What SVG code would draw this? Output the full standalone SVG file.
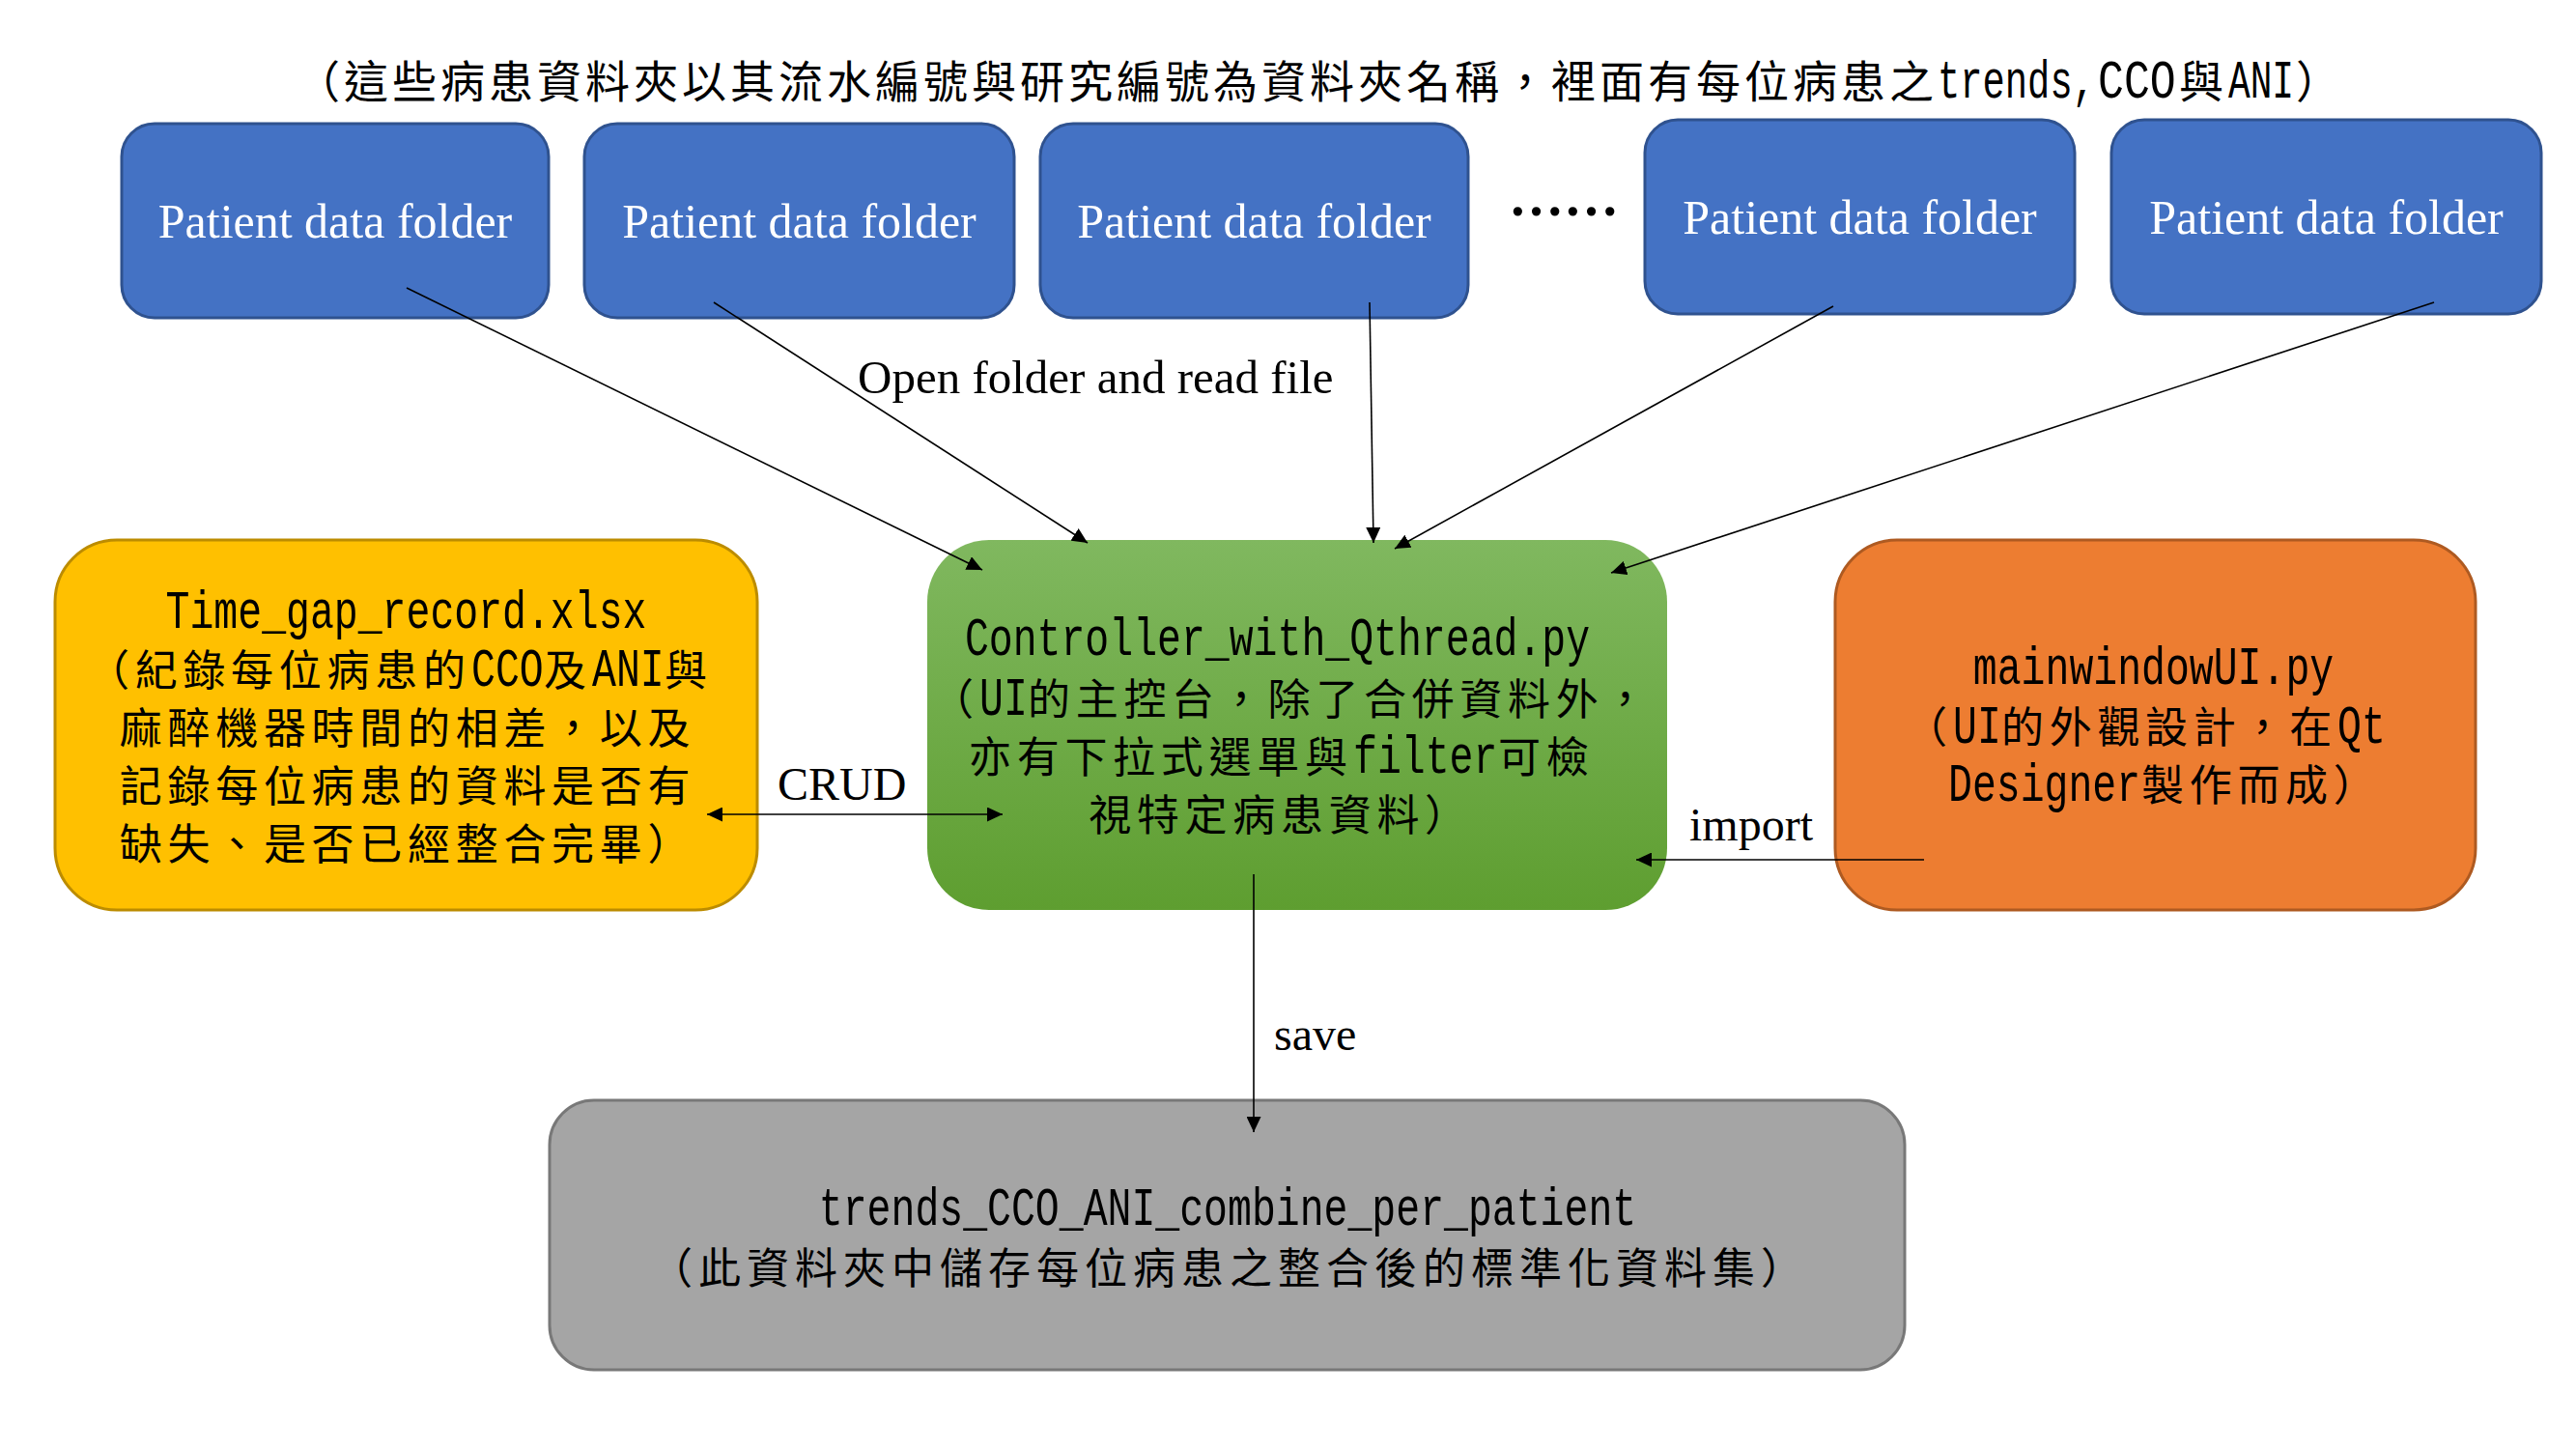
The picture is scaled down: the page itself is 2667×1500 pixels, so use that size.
<svg xmlns="http://www.w3.org/2000/svg" width="2667" height="1500" viewBox="0 0 2667 1500">
<defs>
<linearGradient id="gg" x1="0" y1="0" x2="0" y2="1">
<stop offset="0" stop-color="#80B85F"/>
<stop offset="1" stop-color="#5E9E30"/>
</linearGradient>
<marker id="ah" viewBox="0 0 16 15" refX="16" refY="7.5" markerWidth="16" markerHeight="15" markerUnits="userSpaceOnUse" orient="auto-start-reverse">
<path d="M0,0 L16,7.5 L0,15 z" fill="#000"/>
</marker>
<style>
.blue{fill:#4472C4;stroke:#2F528F;stroke-width:3}
.pf{font-family:"Liberation Serif",serif;font-size:50px;fill:#fff;text-anchor:middle}
.lbl{font-family:"Liberation Serif",serif;font-size:48px;fill:#000}
.m{font-family:"Noto Sans CJK TC","Noto Sans CJK SC",sans-serif;font-size:44px;letter-spacing:5.7px;fill:#000}
.mc{text-anchor:middle}
.lt{font-family:"Liberation Mono",monospace;font-size:56px;fill:#000}
.lo{font-family:"Liberation Mono",monospace;font-size:56px;fill:#000;text-anchor:middle}
.ttl{font-family:"Noto Sans CJK TC","Noto Sans CJK SC",sans-serif;font-size:46px;letter-spacing:4px;fill:#000}
.cn{fill:none;stroke:#000;stroke-width:1.6;marker-end:url(#ah)}
</style>
</defs>
<rect width="2667" height="1500" fill="#fff"/>

<g id="title">
<text class="ttl" x="306" y="101">（這些病患資料夾以其流水編號與研究編號為資料夾名稱，裡面有每位病患之</text>
<text class="lt" transform="matrix(0.693 0 0 1 2006 101)">trends,</text>
<text class="lt" transform="matrix(0.8 0 0 1 2172 101)">CCO</text>
<text class="ttl" x="2256" y="101">與</text>
<text class="lt" transform="matrix(0.675 0 0 1 2307 101)">ANI</text>
<text class="ttl" x="2377" y="101">）</text>
</g>

<g id="folder1"><rect class="blue" x="126" y="128" width="442" height="201" rx="34"/><text class="pf" x="347" y="246">Patient data folder</text></g>
<g id="folder2"><rect class="blue" x="605" y="128" width="445" height="201" rx="34"/><text class="pf" x="827.5" y="246">Patient data folder</text></g>
<g id="folder3"><rect class="blue" x="1077" y="128" width="443" height="201" rx="34"/><text class="pf" x="1298.5" y="246">Patient data folder</text></g>
<g id="ellipsis"><text x="1562" y="223" style="font-family:'Liberation Serif',serif;font-size:57px;font-weight:bold">……</text></g>
<g id="folder4"><rect class="blue" x="1703" y="124" width="445" height="201" rx="34"/><text class="pf" x="1925.5" y="242">Patient data folder</text></g>
<g id="folder5"><rect class="blue" x="2186" y="124" width="445" height="201" rx="34"/><text class="pf" x="2408.5" y="242">Patient data folder</text></g>

<g id="timegap">
<rect x="57" y="559" width="727" height="383" rx="64" fill="#FFC000" stroke="#BC8C00" stroke-width="3"/>
<text class="lo" transform="matrix(0.741 0 0 1 420.5 650)">Time_gap_record.xlsx</text>
<text class="m" x="90" y="710">（紀錄每位病患的</text>
<text class="lt" transform="matrix(0.741 0 0 1 488 710)">CCO</text>
<text class="m" x="563" y="710">及</text>
<text class="lt" transform="matrix(0.741 0 0 1 613 710)">ANI</text>
<text class="m" x="688" y="710">與</text>
<text class="m mc" x="422" y="770">麻醉機器時間的相差，以及</text>
<text class="m mc" x="422" y="830">記錄每位病患的資料是否有</text>
<text class="m mc" x="422" y="890">缺失、是否已經整合完畢）</text>
</g>

<g id="controller">
<rect x="960" y="559" width="766" height="383" rx="64" fill="url(#gg)"/>
<text class="lo" transform="matrix(0.741 0 0 1 1322.5 678)">Controller_with_Qthread.py</text>
<text class="m" x="964" y="740">（</text>
<text class="lt" transform="matrix(0.741 0 0 1 1014 740)">UI</text>
<text class="m" x="1064" y="740">的主控台，除了合併資料外，</text>
<text class="m" x="1003" y="800">亦有下拉式選單與</text>
<text class="lt" transform="matrix(0.741 0 0 1 1401 800)">filter</text>
<text class="m" x="1551" y="800">可檢</text>
<text class="m mc" x="1326" y="860">視特定病患資料）</text>
</g>

<g id="mainwindow">
<rect x="1900" y="559" width="663" height="383" rx="64" fill="#ED7D31" stroke="#AE5A21" stroke-width="3"/>
<text class="lo" transform="matrix(0.741 0 0 1 2229.5 708)">mainwindowUI.py</text>
<text class="m" x="1972" y="769">（</text>
<text class="lt" transform="matrix(0.741 0 0 1 2022 769)">UI</text>
<text class="m" x="2072" y="769">的外觀設計，在</text>
<text class="lt" transform="matrix(0.741 0 0 1 2420 769)">Qt</text>
<text class="lt" transform="matrix(0.741 0 0 1 2017 829)">Designer</text>
<text class="m" x="2217" y="829">製作而成）</text>
</g>

<g id="combine">
<rect x="569" y="1139" width="1403" height="279" rx="46" fill="#A5A5A5" stroke="#787878" stroke-width="3"/>
<text class="lo" transform="matrix(0.741 0 0 1 1271 1268)">trends_CCO_ANI_combine_per_patient</text>
<text class="m mc" x="1273" y="1329" style="letter-spacing:6px">（此資料夾中儲存每位病患之整合後的標準化資料集）</text>
</g>

<g id="connectors">
<line class="cn" x1="421" y1="298" x2="1017" y2="590"/>
<line class="cn" x1="739" y1="313" x2="1126" y2="562"/>
<line class="cn" x1="1418" y1="313" x2="1422" y2="562"/>
<line class="cn" x1="1898" y1="317" x2="1444" y2="568"/>
<line class="cn" x1="2520" y1="313" x2="1668" y2="593"/>
<line class="cn" x1="732" y1="843" x2="1038" y2="843" style="marker-start:url(#ah)"/>
<line class="cn" x1="1992" y1="890" x2="1694" y2="890"/>
<line class="cn" x1="1298" y1="905" x2="1298" y2="1172"/>
<text class="lbl" x="888" y="407" style="font-size:49px">Open folder and read file</text>
<text class="lbl" x="805" y="828">CRUD</text>
<text class="lbl" x="1319" y="1087">save</text>
<text class="lbl" x="1749" y="870">import</text>
</g>
</svg>
